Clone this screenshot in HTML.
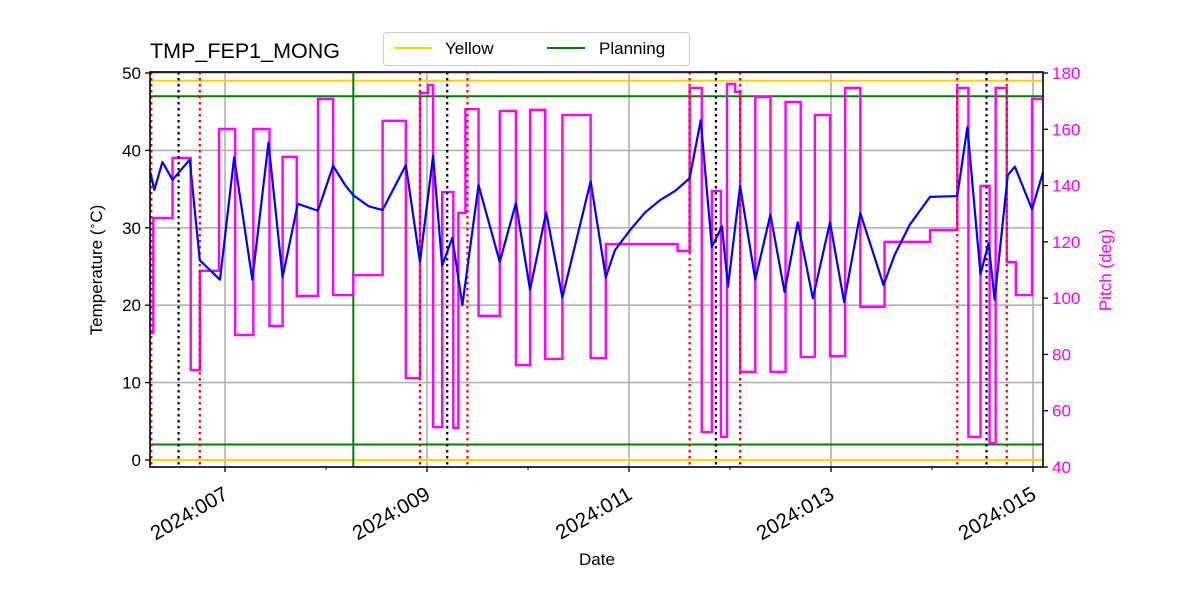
<!DOCTYPE html>
<html><head><meta charset="utf-8">
<style>
body{margin:0;background:#fff;}
svg{font-family:"Liberation Sans","DejaVu Sans",sans-serif;}
</style></head>
<body>
<svg id="chart" width="1200" height="600" viewBox="0 0 1200 600" style="position:absolute;left:0;top:0;">
</svg>
<script>
const tempDays=[6.26,6.30,6.38,6.48,6.65,6.75,6.95,7.09,7.27,7.43,7.57,7.72,7.92,8.07,8.19,8.27,8.42,8.56,8.79,8.93,9.06,9.15,9.25,9.35,9.51,9.72,9.88,10.02,10.18,10.34,10.62,10.77,10.86,11.01,11.16,11.31,11.46,11.60,11.71,11.82,11.92,11.98,12.10,12.25,12.40,12.54,12.67,12.82,12.99,13.13,13.29,13.52,13.63,13.78,13.98,14.25,14.35,14.48,14.56,14.62,14.75,14.82,14.99,15.10];
const tempValues=[37.2,34.9,38.5,36.2,38.8,25.8,23.3,39.1,23.3,41.0,23.6,33.1,32.2,38.0,35.5,34.2,32.8,32.3,38.1,25.6,39.3,25.1,28.7,20.0,35.5,25.6,33.2,22.0,32.0,21.0,36.0,23.6,27.1,29.7,32.0,33.6,34.8,36.4,43.9,27.5,30.2,22.4,35.4,23.3,31.7,21.7,30.7,20.9,30.7,20.4,31.9,22.6,26.5,30.4,34.0,34.1,43.0,24.0,28.0,20.7,36.8,37.9,32.4,37.2];
const pitchDays=[6.26,6.29,6.48,6.66,6.75,6.94,7.10,7.28,7.44,7.57,7.71,7.92,8.07,8.27,8.56,8.79,8.93,9.01,9.06,9.15,9.26,9.31,9.38,9.51,9.72,9.88,10.02,10.17,10.34,10.62,10.77,11.48,11.60,11.72,11.82,11.91,11.97,12.05,12.10,12.25,12.40,12.55,12.70,12.84,12.99,13.14,13.29,13.53,13.98,14.25,14.36,14.48,14.57,14.63,14.74,14.83,14.99];
const pitchValues=[87.6,128.5,149.8,74.5,109.7,160.1,86.9,160.1,90.1,150.2,100.8,170.8,101.1,108.2,163.0,71.6,172.9,175.7,54.2,137.7,53.9,130.3,167.2,93.7,166.5,76.2,166.9,78.4,165.1,78.7,119.2,116.8,174.7,52.4,138.1,50.7,176.1,173.3,73.8,171.5,73.8,169.7,79.1,165.1,79.4,174.7,96.9,120.0,124.2,174.7,50.7,139.9,48.5,174.7,112.8,101.1,170.8];
const redEventDays=[6.27,6.75,8.93,9.40,11.60,12.10,14.25,14.74];
const blackEventDays=[6.54,9.20,11.86,14.54];
const planningVDay=8.27;
const yellowLimits=[49,0];
const planningLimits=[47,2];
const xTickDays=[7,9,11,13,15];
const xTickLabels=["2024:007","2024:009","2024:011","2024:013","2024:015"];
const xMinorDays=[8,10,12,14];
const yTicks=[0,10,20,30,40,50];
const y2Ticks=[40,60,80,100,120,140,160,180];

const L=150,R=1043,T=72,B=467,DAY0=6.257,DAY1=15.099;
const xS=d=>L+(d-DAY0)/(DAY1-DAY0)*(R-L);
const yS=v=>460-7.74*v;
const y2S=p=>73+(180-p)*394/140;
const svg=document.getElementById('chart');
const NS='http://www.w3.org/2000/svg';
function mk(tag,attrs,parent){const e=document.createElementNS(NS,tag);for(const k in attrs)e.setAttribute(k,attrs[k]);(parent||svg).appendChild(e);return e;}

yTicks.forEach(v=>{const g=mk('line',{x1:L,x2:R,y1:yS(v),y2:yS(v),stroke:'#b0b0b0','stroke-width':1.6});

});
xTickDays.forEach(d=>{const g=mk('line',{x1:xS(d),x2:xS(d),y1:T,y2:B,stroke:'#b0b0b0','stroke-width':1.6});

});

yellowLimits.forEach(v=>{const l=mk('line',{x1:L,x2:R,y1:yS(v),y2:yS(v),stroke:'#ffd700','stroke-width':2});

});
planningLimits.forEach(v=>{const l=mk('line',{x1:L,x2:R,y1:yS(v),y2:yS(v),stroke:'#008000','stroke-width':2});

});
{const l=mk('line',{x1:xS(planningVDay),x2:xS(planningVDay),y1:T,y2:B,stroke:'#008000','stroke-width':2});

}

{let d='';pitchDays.forEach((day,i)=>{const x=xS(day),y=y2S(pitchValues[i]);
 if(i===0)d+=`M${x},${y}`;else d+=`L${x},${y2S(pitchValues[i-1])}L${x},${y}`;});
 d+=`L${R},${y2S(pitchValues[pitchValues.length-1])}`;
 const p=mk('path',{d:d,fill:'none',stroke:'#ff00ff','stroke-width':2.4});
 
 }

redEventDays.forEach(d=>{const l=mk('line',{x1:xS(d),x2:xS(d),y1:T,y2:B,stroke:'#ff0000','stroke-width':2.2,'stroke-dasharray':'2.5,3.5'});

});
blackEventDays.forEach(d=>{const l=mk('line',{x1:xS(d),x2:xS(d),y1:T,y2:B,stroke:'#000','stroke-width':2.2,'stroke-dasharray':'2.5,3.5'});

});

{const pts=tempDays.map((d,i)=>`${xS(d)},${yS(tempValues[i])}`).join(' ');
 const p=mk('polyline',{points:pts,fill:'none',stroke:'#0000ff','stroke-width':2.2,'stroke-linejoin':'round'});
 
 }

{const f=mk('rect',{x:L,y:T,width:R-L,height:B-T,fill:'none',stroke:'#000','stroke-width':1.6});

}

yTicks.forEach(v=>{mk('line',{x1:L-5,x2:L,y1:yS(v),y2:yS(v),stroke:'#000','stroke-width':1.3});
 const t=mk('text',{x:L-9,y:yS(v)+6,'text-anchor':'end','font-size':17,fill:'#000'});t.textContent=v;
 
 });
y2Ticks.forEach(v=>{mk('line',{x1:R,x2:R+5,y1:y2S(v),y2:y2S(v),stroke:'#000','stroke-width':1.3});
 const t=mk('text',{x:R+9,y:y2S(v)+6,'font-size':17,fill:'#ff00ff'});t.textContent=v;
 
 });
xMinorDays.forEach(d=>mk('line',{x1:xS(d),x2:xS(d),y1:B,y2:B+3,stroke:'#000','stroke-width':1}));
xTickDays.forEach((d,i)=>{const x=xS(d);mk('line',{x1:x,x2:x,y1:B,y2:B+5,stroke:'#000','stroke-width':1.3});
 const t=mk('text',{x:0,y:0,'text-anchor':'end','font-size':20.5,fill:'#000',transform:`translate(${x+4.5} ${B+31}) rotate(-30)`});t.textContent=xTickLabels[i];
 
 });
</script>
<svg width="1200" height="600" style="position:absolute;left:0;top:0;font-family:'Liberation Sans','DejaVu Sans',sans-serif;">
<text x="150" y="58" font-size="21.5">TMP_FEP1_MONG</text>
<text x="597" y="565" font-size="17" text-anchor="middle">Date</text>
<text transform="translate(102 270) rotate(-90)" font-size="17" text-anchor="middle">Temperature (<tspan baseline-shift="super" font-size="11">∘</tspan>C)</text>
<text transform="translate(1111 270) rotate(-90)" font-size="17" text-anchor="middle" fill="#ff00ff">Pitch (deg)</text>
<g>
<rect x="383.5" y="32.5" width="306" height="33" rx="3" fill="#fff" stroke="#ccc"/>
<line x1="394" x2="432" y1="48" y2="48" stroke="#ffd700" stroke-width="2"/>
<text x="445" y="54" font-size="17">Yellow</text>
<line x1="547" x2="585" y1="48" y2="48" stroke="#008000" stroke-width="2"/>
<text x="599" y="54" font-size="17">Planning</text>
</g>
</svg>
</body></html>
